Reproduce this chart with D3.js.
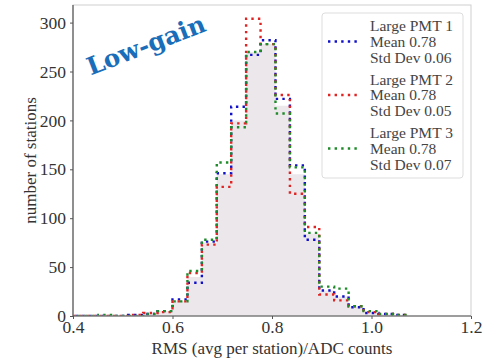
<!DOCTYPE html>
<html><head><meta charset="utf-8">
<script src="https://cdn.jsdelivr.net/npm/d3@7"></script>
<style>html,body{margin:0;padding:0;background:#fff;}svg{display:block;}</style>
</head><body><svg id="c" width="486" height="361"></svg>
<script>
const binEdges = [0.392,0.422,0.451,0.481,0.511,0.541,0.570,0.600,0.630,0.659,0.689,0.718,0.748,0.777,0.807,0.836,0.866,0.895,0.925,0.954,0.984,1.014,1.043,1.073];
const pmt1 = [0,0,0,0,1,2,5,17,34,76,146,214,267,282,222,154,78,26,20,9,3,2,1];
const pmt2 = [0,0,0,0,1,3,4,15,44,73,132,197,304,278,226,125,91,22,16,10,4,2,1];
const pmt3 = [0,0,1,0,0,2,5,15,46,78,157,193,270,278,207,152,85,30,28,10,5,2,1];
const fillCounts = [0,0,0,0,1,2,5,15,40,75,145,200,270,278,215,145,84,26,20,9,4,2,1];
const seriesNames = ["Large PMT 1","Large PMT 2","Large PMT 3"];
const seriesMeans = ["Mean 0.78","Mean 0.78","Mean 0.78"];
const seriesStd = ["Std Dev 0.06","Std Dev 0.05","Std Dev 0.07"];
const seriesColors = ["#1010c8","#e02424","#1e8a2a"];
const xTicks = [0.4,0.6,0.8,1.0,1.2];
const yTicks = [0,50,100,150,200,250,300];

const svg = d3.select("#c");
const L=73,R=471,T=5,B=316;
const x = d3.scaleLinear().domain([0.4,1.2]).range([L,R]);
const y = d3.scaleLinear().domain([0,318]).range([B,T]);
const serif = "'Liberation Serif', serif";

svg.append("defs").append("clipPath").attr("id","pc")
  .append("rect").attr("x",L).attr("y",T).attr("width",R-L).attr("height",B-T);

function stepPts(counts){
  const p=[[binEdges[0],0]];
  counts.forEach((c,i)=>{p.push([binEdges[i],c]);p.push([binEdges[i+1],c]);});
  p.push([binEdges[binEdges.length-1],0]);
  return p;
}
const line = d3.line().x(d=>x(d[0])).y(d=>y(d[1]));
const area = d3.area().x(d=>x(d[0])).y0(y(0)).y1(d=>y(d[1]));

const g = svg.append("g").attr("clip-path","url(#pc)");
g.append("path").datum(stepPts(fillCounts)).attr("d",area).attr("fill","#ece7eb");
[pmt1,pmt2,pmt3].forEach((s,i)=>{
  g.append("path").datum(stepPts(s)).attr("d",line).attr("fill","none")
   .attr("stroke",seriesColors[i]).attr("stroke-width",2.4)
   .attr("stroke-dasharray","2.4,4.2").attr("stroke-dashoffset",i*2.2);
});

// frame
svg.append("rect").attr("x",L).attr("y",T).attr("width",R-L).attr("height",B-T)
  .attr("fill","none").attr("stroke","#cfcfcf").attr("stroke-width",1);
svg.append("line").attr("x1",L).attr("x2",L).attr("y1",T).attr("y2",B).attr("stroke","#555").attr("stroke-width",1.2);
svg.append("line").attr("x1",L).attr("x2",R).attr("y1",B).attr("y2",B).attr("stroke","#555").attr("stroke-width",1.2);

const xa = svg.append("g").attr("transform",`translate(0,${B})`)
  .call(d3.axisBottom(x).tickValues(xTicks).tickFormat(d3.format(".1f")).tickSize(3).tickPadding(1));
const ya = svg.append("g").attr("transform",`translate(${L},0)`)
  .call(d3.axisLeft(y).tickValues(yTicks).tickSize(3).tickPadding(4));
[xa,ya].forEach(a=>{a.select(".domain").remove();
  a.selectAll("line").attr("stroke","#555");
  a.selectAll("text").attr("font-family",serif).attr("font-size",17.5).attr("fill","#333");});
xa.selectAll("text").attr("dy","0.75em");

svg.append("text").attr("x",(L+R)/2+0).attr("y",354).attr("text-anchor","middle")
  .attr("font-family",serif).attr("font-size",17).attr("fill","#333")
  .text("RMS (avg per station)/ADC counts");
svg.append("text").attr("transform",`translate(36,${(T+B)/2}) rotate(-90)`).attr("text-anchor","middle")
  .attr("font-family",serif).attr("font-size",17).attr("fill","#333")
  .text("number of stations");

svg.append("text").attr("transform","translate(149,53) rotate(-21)").attr("text-anchor","middle")
  .attr("font-family","'DejaVu Serif', serif").attr("font-weight","bold").attr("font-size",24.5).attr("fill","#1a6db8")
  .text("Low-gain");

// legend
const lg = svg.append("g");
lg.append("rect").attr("x",322).attr("y",13).attr("width",141).attr("height",165).attr("rx",3)
  .attr("fill","#fff").attr("fill-opacity",0.85).attr("stroke","#dddddd");
const mids=[41.5,95,148.5];
seriesNames.forEach((n,i)=>{
  const m=mids[i];
  lg.append("line").attr("x1",328).attr("x2",357).attr("y1",m).attr("y2",m)
    .attr("stroke",seriesColors[i]).attr("stroke-width",2.4).attr("stroke-dasharray","2.4,4.2");
  [n,seriesMeans[i],seriesStd[i]].forEach((t,j)=>{
    lg.append("text").attr("x",370).attr("y",m+(j-1)*15.8).attr("dy","0.35em")
      .attr("font-family",serif).attr("font-size",15.5).attr("fill","#444").text(t);
  });
});
</script></body></html>
